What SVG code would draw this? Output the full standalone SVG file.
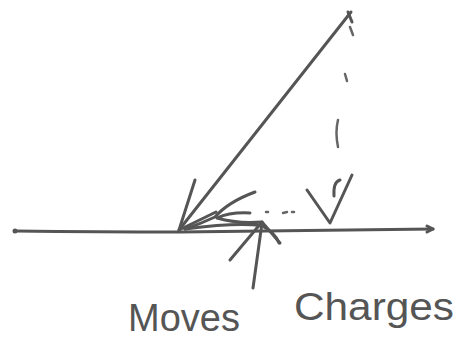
<svg xmlns="http://www.w3.org/2000/svg" width="471" height="347" viewBox="0 0 471 347">
<style>
.s{fill:none;stroke:#555;stroke-width:3;stroke-linecap:round;stroke-linejoin:round}
.d{fill:none;stroke:#666;stroke-width:2.5;stroke-linecap:round}
.t{font-family:"Liberation Sans",Arial,sans-serif;font-size:38px;fill:#555}
</style>
<rect width="471" height="347" fill="#fff"/>
<g id="ground">
<path class="s" d="M15,231 Q100,232 180,232 L433,229"/>
<path class="s" d="M427,226 L433,229 L427,232"/>
<circle cx="15" cy="231" r="2.5" fill="#555"/>
</g>
<g id="incident">
<path class="s" d="M351,12 L179,230"/>
<path class="s" d="M195,180 L179,230 L216,212"/>
<path class="s" d="M348,12 L352,22"/>
</g>
<g id="reflected">
<path class="s" d="M255,192 Q228,202 215,217 Q200,224 185,229"/>
<path class="s" d="M250,213 Q230,212 217,218 Q238,224 262,222"/>
<path class="d" d="M266,212 L268,212 M283,213 L287,212 M292,212 L294,212"/>
</g>
<g id="normal">
<path class="d" d="M350,27 L353,35 M345,74 L347,81 M338,120 Q335,132 338,147"/>
<path class="s" d="M307,190 L330,223 L352,175"/>
<path class="s" d="M334,196 Q333,182 340,180"/>
</g>
<g id="normal-force">
<path class="s" d="M262,223 L253,288"/>
<path class="s" d="M230,260 L262,222 L280,243"/>
<path class="s" d="M185,229 Q240,222 262,226 Q275,232 279,243"/>
</g>
<g id="label">
<text class="t" x="128" y="331">Moves</text>
<text class="t" x="294" y="320" textLength="160" lengthAdjust="spacingAndGlyphs">Charges</text>
</g>
</svg>
